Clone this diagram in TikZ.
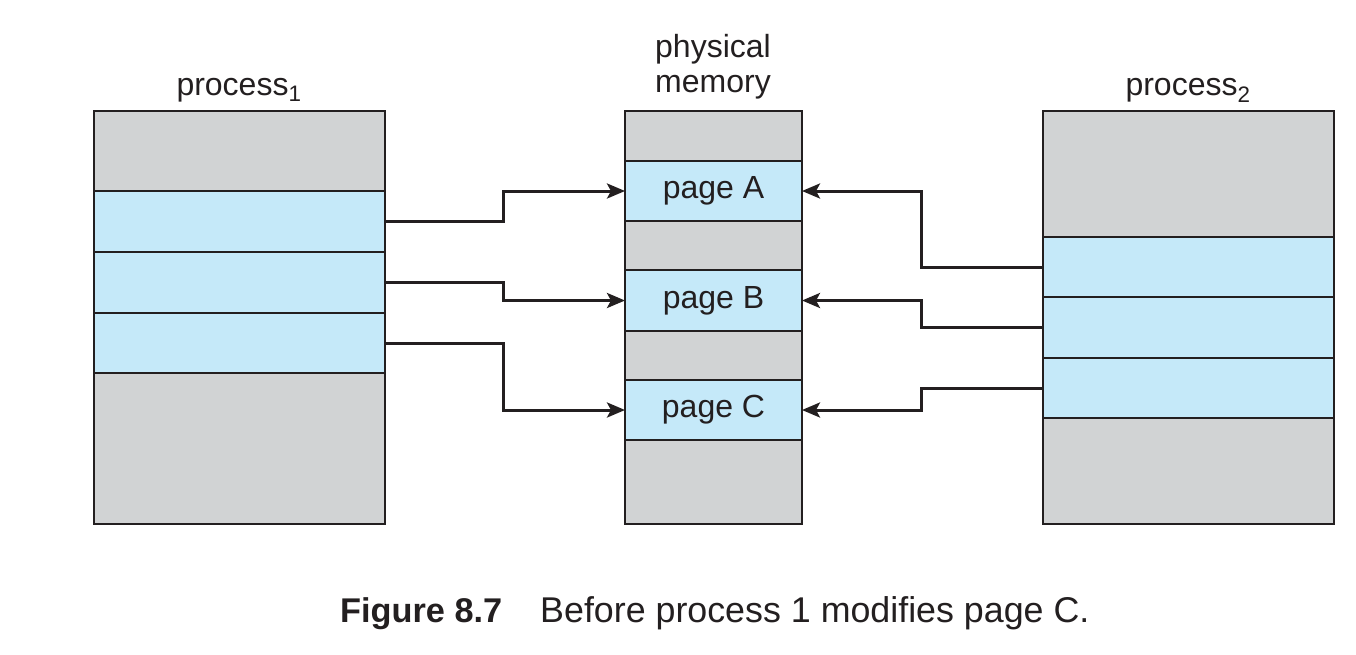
\documentclass[tikz,border=0pt]{standalone}
\usepackage{fontspec}
\setmainfont{Liberation Sans}
\usetikzlibrary{arrows.meta}
\definecolor{segGray}{HTML}{D1D3D4}
\definecolor{segBlue}{HTML}{C5E9F9}
\definecolor{ink}{HTML}{231F20}
\begin{document}
\begin{tikzpicture}[x=1pt,y=-1pt,
  seg/.style={draw=ink, line width=2pt, inner sep=0pt, outer sep=0pt, anchor=north west, font=\fontsize{32}{35}\selectfont, text=ink},
  gr/.style={seg, fill=segGray},
  bl/.style={seg, fill=segBlue},
  conn/.style={draw=ink, line width=3pt, -{Stealth[length=18pt,width=15pt,inset=4pt]}},
  lbl/.style={font=\fontsize{32}{35}\selectfont, text=ink, inner sep=0pt, align=center},
  captext/.style={font=\fontsize{35.8}{38}\selectfont, text=ink, inner sep=0pt}]
\fill[white] (0,0) rectangle (1356,654);
\useasboundingbox (0,0) rectangle (1356,654);
% process 1
\node[gr, minimum width=291pt, minimum height=80pt] (p1a) at (94,111) {};
\node[bl, minimum width=291pt, minimum height=61pt] (p1b) at (94,191) {};
\node[bl, minimum width=291pt, minimum height=61pt] (p1c) at (94,252) {};
\node[bl, minimum width=291pt, minimum height=60pt] (p1d) at (94,313) {};
\node[gr, minimum width=291pt, minimum height=151pt] (p1e) at (94,373) {};
% physical memory
\node[gr, minimum width=177pt, minimum height=50pt] (m1) at (625,111) {};
\node[bl, minimum width=177pt, minimum height=60pt] (mA) at (625,161) {page A};
\node[gr, minimum width=177pt, minimum height=49pt] (m2) at (625,221) {};
\node[bl, minimum width=177pt, minimum height=61pt] (mB) at (625,270) {page B};
\node[gr, minimum width=177pt, minimum height=49pt] (m3) at (625,331) {};
\node[bl, minimum width=177pt, minimum height=60pt] (mC) at (625,380) {page C};
\node[gr, minimum width=177pt, minimum height=84pt] (m4) at (625,440) {};
% process 2
\node[gr, minimum width=291pt, minimum height=126pt] (p2a) at (1043,111) {};
\node[bl, minimum width=291pt, minimum height=60pt] (p2b) at (1043,237) {};
\node[bl, minimum width=291pt, minimum height=61pt] (p2c) at (1043,297) {};
\node[bl, minimum width=291pt, minimum height=60pt] (p2d) at (1043,358) {};
\node[gr, minimum width=291pt, minimum height=106pt] (p2e) at (1043,418) {};
% labels
\node[lbl, anchor=base] (l1) at (239,95) {process\textsubscript{1}};
\node[lbl, anchor=base] (l2) at (1188,95) {process\textsubscript{2}};
\node[lbl, anchor=base] (lm1) at (713,57) {physical};
\node[lbl, anchor=base] (lm2) at (713,92) {memory};
% connectors
\draw[conn] (p1b.east) -- ++(118,0) |- (mA.west);
\draw[conn] (p1c.east) -- ++(118,0) |- (mB.west);
\draw[conn] (p1d.east) -- ++(118,0) |- (mC.west);
\draw[conn] (p2b.west) -- ++(-122,0) |- (mA.east);
\draw[conn] (p2c.west) -- ++(-122,0) |- (mB.east);
\draw[conn] (p2d.west) -- ++(-122,0) |- (mC.east);
% caption
\node[captext, anchor=base west] (capt) at (340,622) {{\fontsize{34.3}{38}\selectfont\bfseries Figure 8.7}\hspace{38pt}Before process 1 modifies page C.};
\end{tikzpicture}
\end{document}
